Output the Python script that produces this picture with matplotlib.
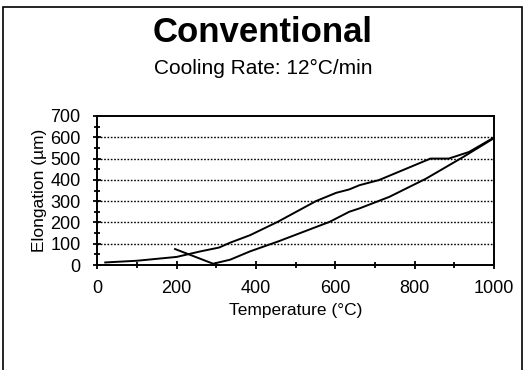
import matplotlib.pyplot as plt
from matplotlib.patches import Rectangle
from matplotlib.ticker import MultipleLocator

plt.rcParams['font.family'] = ['Liberation Sans', 'DejaVu Sans']

# heating curve (upper)
heat_temp = [20, 100, 200, 260, 307, 335, 385, 455, 551, 602, 635, 661, 710, 840, 886, 937, 1000]
heat_elong = [12, 20, 38, 64, 82, 105, 140, 203, 300, 339, 355, 375, 399, 500, 500, 531, 599]

# cooling curve (lower)
cool_temp = [1000, 922, 828, 736, 661, 635, 586, 455, 385, 335, 292, 196]
cool_elong = [596, 507, 405, 320, 266, 250, 203, 110, 64, 25, 6, 75]

fig = plt.figure(figsize=(5.26, 3.70), dpi=100)
ax = fig.add_axes([97.3 / 526, 1 - 265 / 370, (494 - 97.3) / 526, (265 - 116) / 370])

ax.plot(heat_temp, heat_elong, color='black', lw=1.4)
ax.plot(cool_temp, cool_elong, color='black', lw=1.4)

ax.set_xlim(0, 1000)
ax.set_ylim(0, 700)
ax.xaxis.set_major_locator(MultipleLocator(200))
ax.xaxis.set_minor_locator(MultipleLocator(100))
ax.yaxis.set_major_locator(MultipleLocator(100))
ax.yaxis.set_minor_locator(MultipleLocator(50))
ax.tick_params(which='both', direction='inout', width=1.3, labelsize=13)
ax.tick_params(which='major', length=6)
ax.tick_params(which='minor', length=4)
ax.tick_params(axis='x', pad=8)
ax.tick_params(axis='y', pad=9)

for g in range(100, 700, 100):
    ax.axhline(g, color='black', lw=1.0, ls=(0, (1.2, 1.2)), zorder=0)

for s in ax.spines.values():
    s.set_linewidth(1.4)

ax.set_xlabel('Temperature (°C)', fontsize=12.5, labelpad=4)
ax.set_ylabel('Elongation (µm)', fontsize=12.5, labelpad=2)

fig.text(0.5, 1 - 42 / 370, 'Conventional', ha='center', va='baseline', fontsize=25, fontweight='bold')
fig.text(0.5, 1 - 74 / 370, 'Cooling Rate: 12°C/min', ha='center', va='baseline', fontsize=15)

fig.patches.append(Rectangle((3 / 526, -0.02), 519 / 526, 1.02 - 7 / 370, transform=fig.transFigure,
                             fill=False, edgecolor='black', lw=1.2))

fig.savefig('out.png', dpi=100)
